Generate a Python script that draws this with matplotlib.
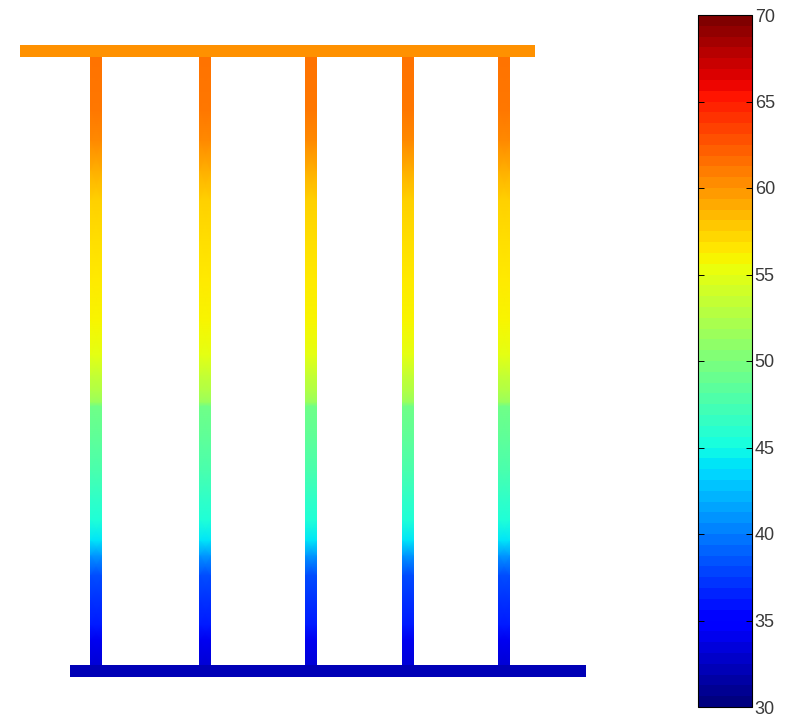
import numpy as np
import matplotlib
matplotlib.use("Agg")
import matplotlib.pyplot as plt
from matplotlib import colors as mcolors
from matplotlib.colorbar import ColorbarBase

# Temperature profile along each riser tube (0 = bottom header, 1 = top header), deg C
tube_height = [0.000, 0.010, 0.050, 0.074, 0.115, 0.155, 0.187, 0.211, 0.244,
               0.284, 0.324, 0.373, 0.427, 0.434, 0.453, 0.477, 0.510, 0.566,
               0.631, 0.695, 0.760, 0.808, 0.856, 0.905, 0.985, 1.000]
tube_temp = [32.5, 33.0, 34.0, 36.0, 37.0, 38.0, 41.0, 44.0, 45.5,
             46.5, 47.5, 48.5, 49.5, 51.5, 52.5, 53.5, 55.0, 56.0,
             56.5, 57.0, 57.5, 59.0, 60.5, 61.3, 61.5, 61.5]

# Header temperatures, deg C
top_header_temp = 60.2
bottom_header_temp = 32.0

# Colour scale
t_min, t_max = 30, 70
cbar_ticks = [30, 35, 40, 45, 50, 55, 60, 65, 70]

# Geometry of the collector drawing (canvas units)
tube_x = [96, 205, 311, 408, 504]
tube_w = 11
y_bottom, y_top = 671, 51
header_h = 12
top_header_span = (20, 535)
bottom_header_span = (70, 586)

W, H = 789, 720
fig = plt.figure(figsize=(W / 100, H / 100), dpi=100, facecolor="white")
ax = fig.add_axes([0, 0, 1, 1])
ax.set_xlim(0, W)
ax.set_ylim(H, 0)
ax.axis("off")

cmap = plt.get_cmap("jet", 64)
norm = mcolors.Normalize(vmin=t_min, vmax=t_max)

h = np.asarray(tube_height)
T = np.asarray(tube_temp)
ys = y_bottom - h * (y_bottom - y_top)

for xc in tube_x:
    xs = np.array([xc - tube_w / 2, xc + tube_w / 2])
    X, Y = np.meshgrid(xs, ys)
    C = np.column_stack([T, T])
    ax.pcolormesh(X, Y, C, cmap=plt.get_cmap("jet"), norm=norm,
                  shading="gouraud", zorder=2, antialiased=True)

# Headers
ax.add_patch(plt.Rectangle((top_header_span[0], y_top - header_h / 2),
                           top_header_span[1] - top_header_span[0], header_h,
                           color=plt.get_cmap("jet")(norm(top_header_temp)),
                           lw=0, zorder=3))
ax.add_patch(plt.Rectangle((bottom_header_span[0], y_bottom - header_h / 2),
                           bottom_header_span[1] - bottom_header_span[0], header_h,
                           color=plt.get_cmap("jet")(norm(bottom_header_temp)),
                           lw=0, zorder=3))

# Colour bar
cax = fig.add_axes([698 / W, 1 - 707 / H, 54 / W, 692 / H])
cb = ColorbarBase(cax, cmap=cmap, norm=norm, orientation="vertical", ticks=cbar_ticks)
cb.outline.set_linewidth(0.8)
cb.outline.set_edgecolor("black")
cax.tick_params(axis="y", which="both", direction="in", left=True, right=True,
                length=4, width=0.7, labelsize=13, labelcolor="#3a3a3a", pad=2)
for lbl in cax.get_yticklabels():
    lbl.set_family(["Liberation Sans", "DejaVu Sans"])

fig.savefig("out.png", dpi=100, facecolor="white")
